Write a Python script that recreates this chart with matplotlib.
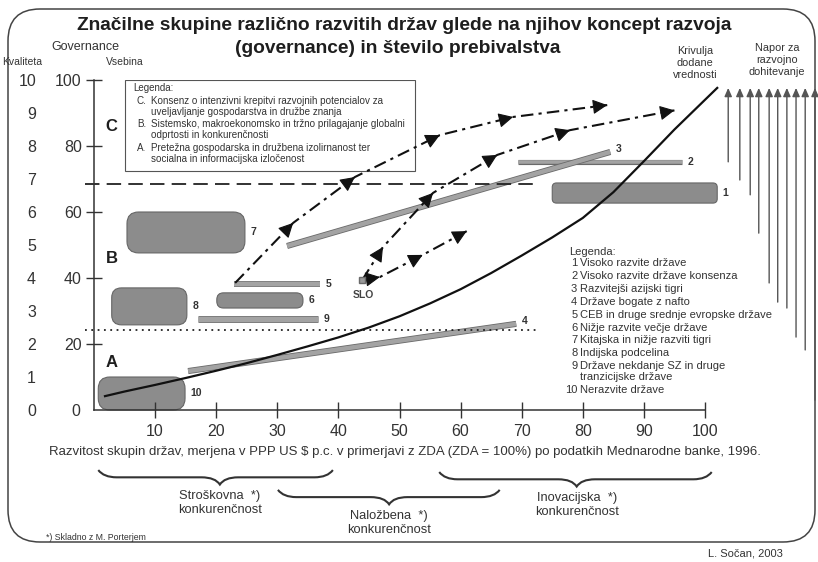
import matplotlib
matplotlib.use('Agg')
import matplotlib.pyplot as plt
import matplotlib.patheffects as pe
from matplotlib import font_manager
from matplotlib.patches import FancyBboxPatch, PathPatch
from matplotlib.path import Path

# ── Pisava ────────────────────────────────────────────────────────────────────
_names = {f.name for f in font_manager.fontManager.ttflist}
NARROW = 'Liberation Sans Narrow' if 'Liberation Sans Narrow' in _names else 'Liberation Sans'
plt.rcParams['font.family'] = ['Liberation Sans', 'DejaVu Sans']
INK = '#1e1e1e'

# ── Besedila ──────────────────────────────────────────────────────────────────
title_lines = ['Značilne skupine različno razvitih držav glede na njihov koncept razvoja',
               '(governance) in število prebivalstva']
xlabel_text = ('Razvitost skupin držav, merjena v PPP US $ p.c. v primerjavi z ZDA '
               '(ZDA = 100%) po podatkih Mednarodne banke, 1996.')

# ── Osi ───────────────────────────────────────────────────────────────────────
x_ticks = [10, 20, 30, 40, 50, 60, 70, 80, 90, 100]
y_ticks = [20, 40, 60, 80, 100]
q_ticks = [0, 1, 2, 3, 4, 5, 6, 7, 8, 9, 10]

# ── Krivulja dodane vrednosti ─────────────────────────────────────────────────
curve_x = [1.8, 5, 10, 15, 20, 25, 30, 35, 40, 45, 50, 55, 60, 65, 70, 75, 80, 85, 90,
           95, 102]
curve_y = [4.2, 5.6, 7.6, 9.7, 11.9, 14.2, 16.7, 19.3, 22.0, 25.0, 28.4, 32.3, 36.6, 41.5,
           46.8, 52.3, 58.2, 66.0, 75.4, 85.0, 97.6]

# ── Skupine držav: zaobljena polja ────────────────────────────────────────────
blob_id = ['1', '7', '8', '10', '6']
blob_x0 = [75.0, 5.4, 2.9, 0.7, 20.1]
blob_x1 = [102.0, 24.7, 15.2, 14.9, 34.2]
blob_y0 = [62.7, 47.6, 25.8, 0.0, 30.9]
blob_y1 = [68.8, 60.0, 37.0, 10.0, 35.5]

# ── Skupine držav: tanki trakovi ──────────────────────────────────────────────
bar_id = ['2', '5', '9']
bar_x0 = [69.4, 22.9, 17.0]
bar_x1 = [96.2, 37.0, 36.7]
bar_y = [75.2, 38.2, 27.7]

# ── Skupine držav: poševni trakovi ────────────────────────────────────────────
diag_id = ['3', '4']
diag_x0 = [31.6, 15.4]
diag_y0 = [49.7, 11.8]
diag_x1 = [84.5, 69.1]
diag_y1 = [78.2, 26.1]

# ── Slovenija in poti razvoja ─────────────────────────────────────────────────
slo_x, slo_y = 43.9, 39.4
path1_x = [23.1, 32.6, 42.7, 56.6, 68.6, 84.0]
path1_y = [38.5, 56.7, 70.6, 83.3, 88.8, 92.4]
path2_x = [43.9, 47.3, 55.5, 66.0, 77.9, 95.0]
path2_y = [39.4, 49.4, 65.8, 77.3, 84.8, 90.8]
path3_x = [43.9, 46.8, 53.8, 61.0]
path3_y = [39.4, 40.3, 47.0, 54.2]

# ── Meje med skupinami A / B / C ──────────────────────────────────────────────
level_cb = 68.5
level_ba = 24.2
level_end = 72.7
zone_names = ['C', 'B', 'A']
zone_y = [86.0, 46.0, 14.5]

# ── Napor za razvojno dohitevanje ─────────────────────────────────────────────
napor_x = [103.8, 105.7, 107.4, 108.8, 110.5, 111.9, 113.4, 114.9, 116.4, 118.0]
napor_bottom = [75.2, 69.7, 65.2, 53.6, 38.5, 32.7, 30.9, 22.1, 18.2, 3.0]
napor_top = 97.6

# ── Zaviti oklepaji (konkurenčnost po Porterju) ───────────────────────────────
brace_x0 = [0.7, 30.1, 56.5]
brace_x1 = [39.1, 66.4, 101.1]
brace_tip = [20.6, 48.3, 79.0]
brace_y = [-18.2, -24.2, -18.8]
brace_text = ['Stroškovna  *)\nkonkurenčnost',
              'Naložbena  *)\nkonkurenčnost',
              'Inovacijska  *)\nkonkurenčnost']

# ── Legende ───────────────────────────────────────────────────────────────────
legend_abc = ['C.', 'Konsenz o intenzivni krepitvi razvojnih potencialov za',
              '', 'uveljavljanje gospodarstva in družbe znanja',
              'B.', 'Sistemsko, makroekonomsko in tržno prilagajanje globalni',
              '', 'odprtosti in konkurenčnosti',
              'A.', 'Pretežna gospodarska in družbena izolirnanost ter',
              '', 'socialna in informacijska izločenost']
legend_num = ['1', 'Visoko razvite države',
              '2', 'Visoko razvite države konsenza',
              '3', 'Razvitejši azijski tigri',
              '4', 'Države bogate z nafto',
              '5', 'CEB in druge srednje evropske države',
              '6', 'Nižje razvite večje države',
              '7', 'Kitajska in nižje razviti tigri',
              '8', 'Indijska podcelina',
              '9', 'Države nekdanje SZ in druge',
              '', 'tranzicijske države',
              '10', 'Nerazvite države']

# ── Slika ─────────────────────────────────────────────────────────────────────
fig = plt.figure(figsize=(8.18, 5.62), dpi=100)
bg = fig.add_axes([0, 0, 1, 1])
bg.set_xlim(0, 818)
bg.set_ylim(562, 0)
bg.axis('off')

ax = fig.add_axes([94 / 818, 152 / 562, 611 / 818, 330 / 562])
ax.set_xlim(0, 100)
ax.set_ylim(0, 100)
ax.patch.set_visible(False)
ASPECT = (611 / 100) / (330 / 100)   # razmerje px na enoto x : y

# okvir in naslov
bg.add_patch(FancyBboxPatch((8, 9), 807, 533, boxstyle='round,pad=0,rounding_size=32',
                            fc='none', ec='#444444', lw=1.1))
bg.text(404, 30, title_lines[0], ha='center', va='baseline', fontsize=13.8,
        fontweight='bold', color=INK)
bg.text(398, 53, title_lines[1], ha='center', va='baseline', fontsize=13.8,
        fontweight='bold', color=INK)
bg.text(85, 47, 'Governance', ha='center', va='center', fontsize=9, color='#333333')
bg.text(22, 62, 'Kvaliteta', ha='center', va='center', fontsize=7.5, color='#333333')
bg.text(125, 62, 'Vsebina', ha='center', va='center', fontsize=7.5, color='#333333')
bg.text(695, 63, 'Krivulja\ndodane\nvrednosti', ha='center', va='center', fontsize=7.8,
        linespacing=1.25, color='#333333')
bg.text(777, 60, 'Napor za\nrazvojno\ndohitevanje', ha='center', va='center', fontsize=7.8,
        linespacing=1.25, color='#333333')
bg.text(46, 537, '*) Skladno z M. Porterjem', ha='left', va='center', fontsize=6.3,
        color='#333333')
bg.text(745, 553, 'L. Sočan, 2003', ha='center', va='center', fontsize=8, color='#333333')

# osi
for s in ['top', 'right']:
    ax.spines[s].set_visible(False)
for s in ['left', 'bottom']:
    ax.spines[s].set_linewidth(1.1)
    ax.spines[s].set_color('#333333')
    ax.spines[s].set_bounds(0, 100)
ax.set_xticks(x_ticks)
ax.set_xticklabels([str(v) for v in x_ticks])
ax.set_yticks(y_ticks)
ax.set_yticklabels([str(v) for v in y_ticks])
ax.set_yticks([0], labels=['0'], minor=True)
ax.tick_params(axis='both', which='major', direction='inout', length=11.5, width=1.0,
               color='#333333', labelsize=11.5, labelcolor='#333333')
ax.tick_params(axis='x', which='major', pad=4)
ax.tick_params(axis='y', which='major', pad=3)
ax.tick_params(axis='y', which='minor', length=0, pad=10, labelsize=11.5,
               labelcolor='#333333')
ax.tick_params(axis='x', which='minor', bottom=False)

sec = ax.secondary_yaxis((36 - 94) / 611, functions=(lambda v: v / 10, lambda v: v * 10))
sec.set_yticks(q_ticks)
sec.set_yticklabels([str(v) for v in q_ticks])
sec.tick_params(length=0, pad=0, labelsize=11.5, labelcolor='#333333')
sec.spines['left'].set_visible(False)

# meje skupin
ax.plot([-1.5, level_end], [level_cb, level_cb], color='#222222', lw=1.3,
        dashes=(8, 4), clip_on=False, zorder=2)
ax.plot([-1.5, level_end], [level_ba, level_ba], color='#222222', lw=1.3,
        dashes=(1, 2.5), clip_on=False, zorder=2)
for name, y in zip(zone_names, zone_y):
    ax.text(2.9, y, name, ha='center', va='center', fontsize=12, fontweight='bold',
            color=INK)

# zaobljena polja
blob_r = [0.7, 1.9, 1.6, 1.9, 1.1]
for lab, x0, x1, y0, y1, r in zip(blob_id, blob_x0, blob_x1, blob_y0, blob_y1, blob_r):
    ax.add_patch(FancyBboxPatch((x0, y0), x1 - x0, y1 - y0,
                                boxstyle=f'round,pad=0,rounding_size={r}',
                                mutation_aspect=ASPECT, fc='#8c8c8c', ec='#666666',
                                lw=0.8, clip_on=False, zorder=1))
    ax.annotate(lab, (x1, (y0 + y1) / 2), xytext=(4, 0), textcoords='offset points',
                ha='left', va='center', fontsize=7.5, fontweight='bold', color='#333333',
                annotation_clip=False)

# tanki trakovi
bar_w = [2.6, 3.0, 3.8]
for lab, x0, x1, y, w in zip(bar_id, bar_x0, bar_x1, bar_y, bar_w):
    ax.plot([x0, x1], [y, y], color='#a3a3a3', lw=w, solid_capstyle='butt', clip_on=False,
            zorder=1, path_effects=[pe.Stroke(linewidth=w + 1.1, foreground='#6a6a6a'),
                                    pe.Normal()])
    ax.annotate(lab, (x1, y), xytext=(4, 0), textcoords='offset points', ha='left',
                va='center', fontsize=7.5, fontweight='bold', color='#333333',
                annotation_clip=False)

# poševni trakovi
for lab, x0, y0, x1, y1 in zip(diag_id, diag_x0, diag_y0, diag_x1, diag_y1):
    ax.plot([x0, x1], [y0, y1], color='#a3a3a3', lw=3.2, solid_capstyle='butt',
            clip_on=False, zorder=1,
            path_effects=[pe.Stroke(linewidth=4.4, foreground='#6a6a6a'), pe.Normal()])
    ax.annotate(lab, (x1, y1), xytext=(4, 2), textcoords='offset points', ha='left',
                va='center', fontsize=7.5, fontweight='bold', color='#333333',
                annotation_clip=False)

# krivulja dodane vrednosti
ax.plot(curve_x, curve_y, color='#111111', lw=1.6, clip_on=False, zorder=4,
        solid_joinstyle='round')

# poti razvoja
def pot(xs, ys):
    ax.plot(xs, ys, color='#111111', lw=1.5, dashes=(6, 2.5, 1.5, 2.5), clip_on=False,
            zorder=5)
    for i in range(1, len(xs)):
        tx = xs[i - 1] + 0.9 * (xs[i] - xs[i - 1])
        ty = ys[i - 1] + 0.9 * (ys[i] - ys[i - 1])
        ax.annotate('', xy=(xs[i], ys[i]), xytext=(tx, ty), annotation_clip=False,
                    arrowprops=dict(arrowstyle='-|>,head_length=0.75,head_width=0.38',
                                    color='#111111', lw=0.8, shrinkA=0, shrinkB=0,
                                    mutation_scale=12), zorder=6)

pot(path1_x, path1_y)
pot(path2_x, path2_y)
pot(path3_x, path3_y)
ax.plot([slo_x], [slo_y], marker='s', ms=5, mfc='#9a9a9a', mec='#6a6a6a', zorder=7)
ax.annotate('SLO', (slo_x, slo_y), xytext=(1, -11), textcoords='offset points',
            ha='center', va='center', fontsize=7.5, fontweight='bold', color='#444444')

# napor za dohitevanje
for x, yb in zip(napor_x, napor_bottom):
    ax.annotate('', xy=(x, napor_top), xytext=(x, yb), annotation_clip=False,
                arrowprops=dict(arrowstyle='-|>,head_length=0.5,head_width=0.22',
                                color='#555555', lw=1.0, shrinkA=0, shrinkB=0,
                                mutation_scale=10))

# legenda A/B/C
ax.add_patch(plt.Rectangle((5.1, 72.4), 47.4, 27.6, fc='white', ec='#555555', lw=0.8,
                           zorder=3))
ax.text(6.4, 97.6, 'Legenda:', ha='left', va='center', fontsize=7.0, color='#333333',
        zorder=4)
abc_y = [93.6, 90.3, 86.7, 83.3, 79.4, 76.1]
for i, y in enumerate(abc_y):
    ax.text(7.0, y, legend_abc[2 * i], ha='left', va='center', fontsize=7.1,
            color='#333333', zorder=4)
    ax.text(9.3, y, legend_abc[2 * i + 1], ha='left', va='center', fontsize=7.1,
            color='#333333', zorder=4)

# legenda skupin
ax.text(77.7, 47.9, 'Legenda:', ha='left', va='center', fontsize=8, color='#333333')
num_y = [44.5, 40.6, 36.7, 32.7, 28.8, 24.8, 21.2, 17.3, 13.3, 10.0, 6.1]
for i, y in enumerate(num_y):
    ax.text(79.1, y, legend_num[2 * i], ha='right', va='center', fontsize=8,
            color='#333333')
    ax.text(79.6, y, legend_num[2 * i + 1], ha='left', va='center', fontsize=8,
            color='#333333')

# opis vodoravne osi
ax.text(50.9, -12.7, xlabel_text, ha='center', va='center', fontsize=9.5,
        family=NARROW, color='#333333', clip_on=False)

# zaviti oklepaji
def oklepaj(x0, x1, xt, y, h=4.4, r=3.0):
    ym, yb = y - 0.5 * h, y - h
    verts = [(x0, y), (x0 + 0.3 * r, ym), (x0 + r, ym), (xt - r, ym),
             (xt - 0.25 * r, ym), (xt, yb), (xt + 0.25 * r, ym), (xt + r, ym),
             (x1 - r, ym), (x1 - 0.3 * r, ym), (x1, y)]
    codes = [Path.MOVETO, Path.CURVE3, Path.CURVE3, Path.LINETO, Path.CURVE3, Path.CURVE3,
             Path.CURVE3, Path.CURVE3, Path.LINETO, Path.CURVE3, Path.CURVE3]
    ax.add_patch(PathPatch(Path(verts, codes), fc='none', ec='#333333', lw=1.5,
                           clip_on=False))
    return yb

for x0, x1, xt, y, t in zip(brace_x0, brace_x1, brace_tip, brace_y, brace_text):
    yb = oklepaj(x0, x1, xt, y)
    ax.text(xt, yb - 1.6, t, ha='center', va='top', fontsize=9.3, family=NARROW,
            linespacing=1.25, color='#333333', clip_on=False)

fig.savefig('out.png', dpi=100)
